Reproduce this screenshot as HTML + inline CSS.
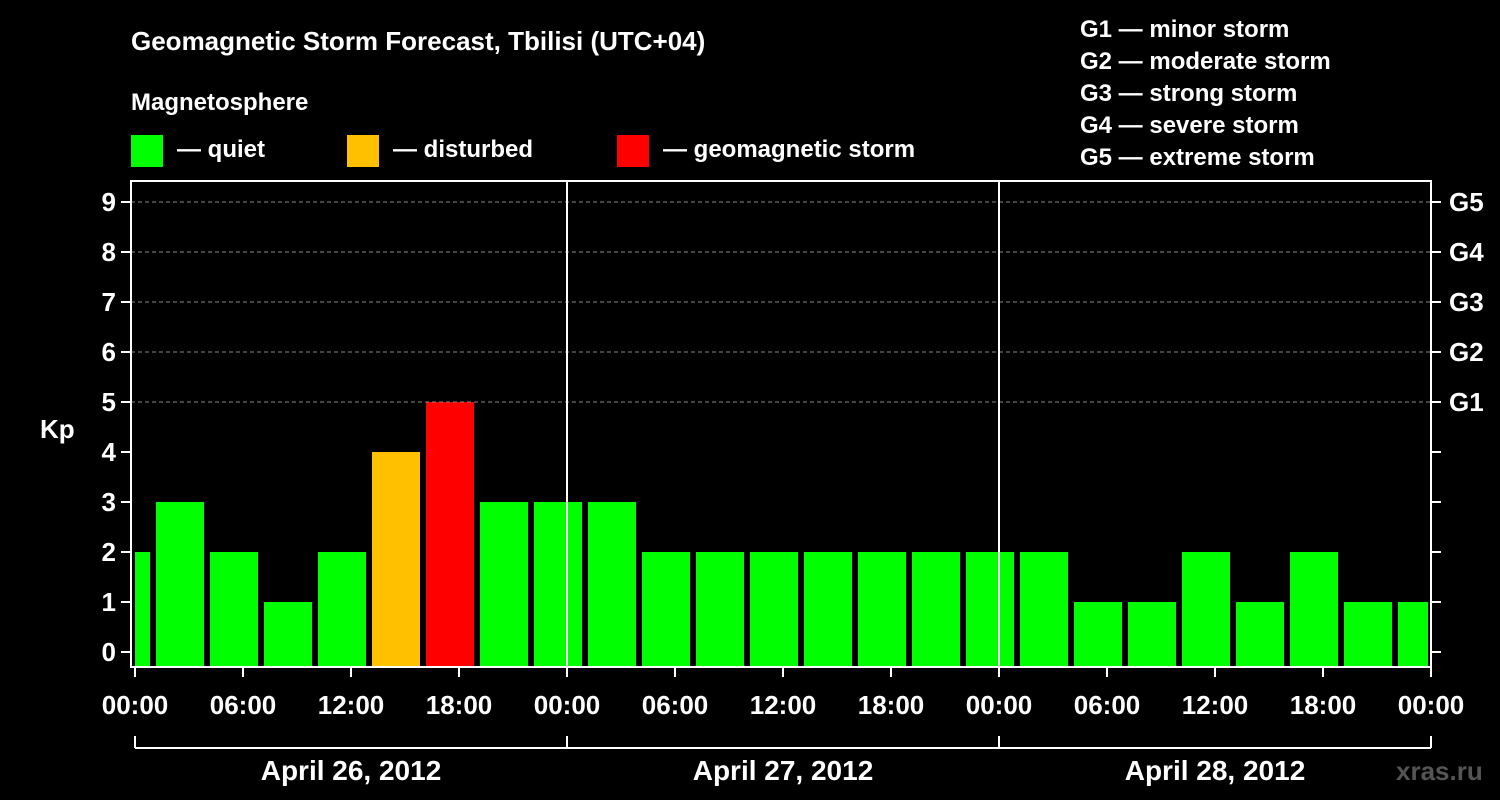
<!DOCTYPE html>
<html><head><meta charset="utf-8"><style>
body{margin:0;background:#000;}
svg{display:block;font-family:"Liberation Sans",Arial,sans-serif;font-weight:bold;}
</style></head><body>
<svg id="c" width="1500" height="800" viewBox="0 0 1500 800">
<rect width="1500" height="800" fill="#000"/>
<text x="131" y="50" fill="#fff" font-size="26">Geomagnetic Storm Forecast, Tbilisi (UTC+04)</text>
<text x="131" y="110" fill="#fff" font-size="24">Magnetosphere</text>
<g><rect x="131" y="135" width="32" height="32" fill="#00ff00"/><text x="177" y="157" fill="#fff" font-size="24">— quiet</text></g>
<g><rect x="347" y="135" width="32" height="32" fill="#ffc000"/><text x="393" y="157" fill="#fff" font-size="24">— disturbed</text></g>
<g><rect x="617" y="135" width="32" height="32" fill="#ff0000"/><text x="663" y="157" fill="#fff" font-size="24">— geomagnetic storm</text></g>
<g fill="#fff" font-size="24">
<text x="1080" y="37">G1 — minor storm</text>
<text x="1080" y="69">G2 — moderate storm</text>
<text x="1080" y="101">G3 — strong storm</text>
<text x="1080" y="133">G4 — severe storm</text>
<text x="1080" y="165">G5 — extreme storm</text>
</g>
<text x="40" y="438" fill="#fff" font-size="26">Kp</text>
<text x="1396" y="780" fill="#555" font-size="26">xras.ru</text>
<g id="plot"></g>
</svg>
<script>
const kpValues=[2,3,2,1,2,4,5,3,3,3,2,2,2,2,2,2,2,2,1,1,2,1,2,1,1];
const yTicks=[0,1,2,3,4,5,6,7,8,9];
const gLabels=["","","","","","G1","G2","G3","G4","G5"];
const xTickHours=[0,6,12,18,24,30,36,42,48,54,60,66,72];
const xTickLabels=["00:00","06:00","12:00","18:00","00:00","06:00","12:00","18:00","00:00","06:00","12:00","18:00","00:00"];
const dayLabels=["April 26, 2012","April 27, 2012","April 28, 2012"];
const firstCenterHour=-0.5, stepHours=3;
const L=135,R=1431,T=181,B=667;
const x=h=>L+h*18;
const y=v=>652-v*50;
const g=document.getElementById('plot');
const NS="http://www.w3.org/2000/svg";
function mk(t,a,p){const e=document.createElementNS(NS,t);for(const k in a)e.setAttribute(k,a[k]);(p||g).appendChild(e);return e;}
const defs=mk('defs',{});const cp=mk('clipPath',{id:'clip'},defs);mk('rect',{x:L,y:T,width:R-L-3,height:B-T},cp);
const bars=mk('g',{'clip-path':'url(#clip)'});


kpValues.forEach((v,i)=>{const c=x(firstCenterHour+i*stepHours);
const col=v>=5?'#ff0000':v>=4?'#ffc000':'#00ff00';
const r=mk('rect',{x:c-24,y:y(v),width:48,height:B-y(v),fill:col},bars);

});
yTicks.forEach(t=>{
if(t>=5){const gl=mk('line',{x1:131,x2:R,y1:y(t),y2:y(t),stroke:'#888','stroke-dasharray':'4,3'});}
mk('line',{x1:121,x2:131,y1:y(t),y2:y(t),stroke:'#fff','stroke-width':2});
mk('line',{x1:R,x2:R+10,y1:y(t),y2:y(t),stroke:'#fff','stroke-width':2});
const tl=mk('text',{x:116,y:y(t)+9,fill:'#fff','font-size':26,'text-anchor':'end'});tl.textContent=t;

if(gLabels[t]){const gt=mk('text',{x:1449,y:y(t)+9,fill:'#fff','font-size':26});gt.textContent=gLabels[t];
}
});
[24,48].forEach(h=>mk('line',{x1:x(h),x2:x(h),y1:T,y2:B,stroke:'#fff','stroke-width':2}));
const frame=mk('rect',{x:131,y:T,width:R-131,height:B-T,fill:'none',stroke:'#fff','stroke-width':2});

xTickHours.forEach((h,i)=>{mk('line',{x1:x(h),x2:x(h),y1:B,y2:B+10,stroke:'#fff','stroke-width':2});
const t=mk('text',{x:x(h),y:714,fill:'#fff','font-size':26,'text-anchor':'middle'});t.textContent=xTickLabels[i];
});
mk('line',{x1:L,x2:R,y1:748,y2:748,stroke:'#fff','stroke-width':2});
[0,24,48,72].forEach(h=>mk('line',{x1:x(h),x2:x(h),y1:736,y2:748,stroke:'#fff','stroke-width':2}));
dayLabels.forEach((d,i)=>{const t=mk('text',{x:x(i*24+12),y:780,fill:'#fff','font-size':28,'text-anchor':'middle'});t.textContent=d;
});
</script>
</body></html>
